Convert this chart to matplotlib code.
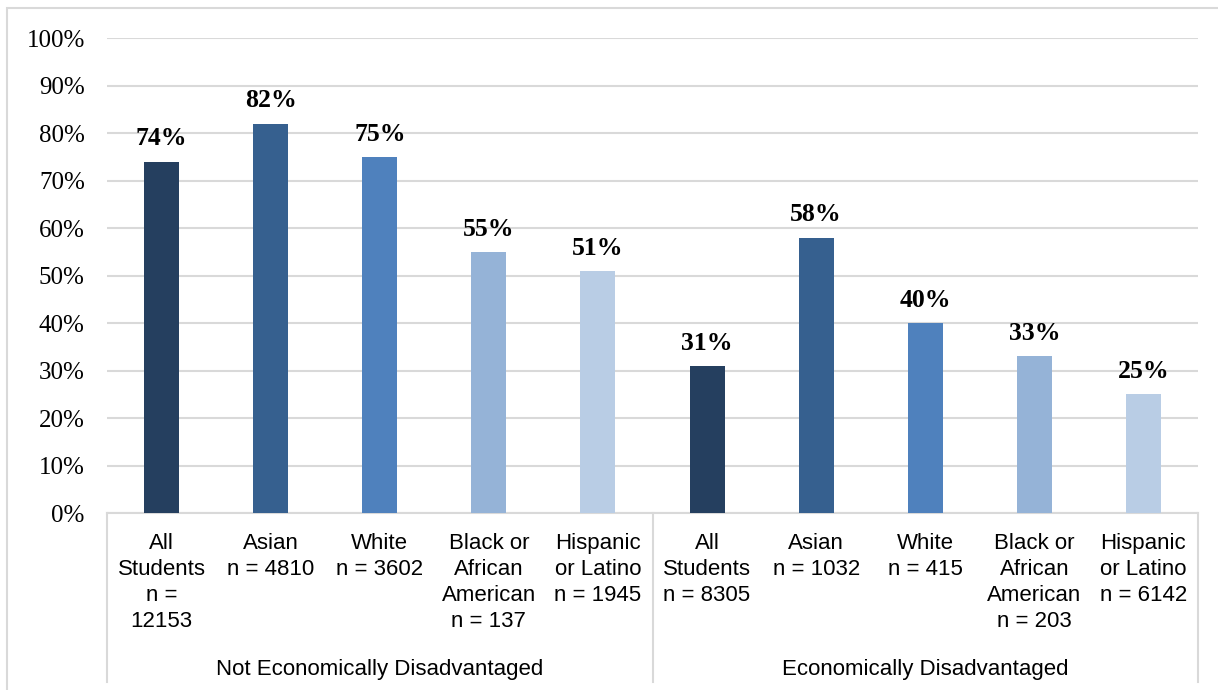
import numpy as np
import matplotlib
matplotlib.use("Agg")
import matplotlib.pyplot as plt
from matplotlib.patches import Rectangle

# Data
groups = ['Not Economically Disadvantaged', 'Economically Disadvantaged']
categories = ['All\nStudents\nn =\n12153', 'Asian\nn = 4810', 'White\nn = 3602',
              'Black or\nAfrican\nAmerican\nn = 137', 'Hispanic\nor Latino\nn = 1945',
              'All\nStudents\nn = 8305', 'Asian\nn = 1032', 'White\nn = 415',
              'Black or\nAfrican\nAmerican\nn = 203', 'Hispanic\nor Latino\nn = 6142']
values = [74, 82, 75, 55, 51, 31, 58, 40, 33, 25]
colors = ['#253F5F', '#36608F', '#4F81BD', '#95B3D7', '#B9CDE5'] * 2

serif = ['Liberation Serif', 'DejaVu Serif']

fig = plt.figure(figsize=(12.18, 6.9), dpi=100)
# outer chart border
fig.patches.append(Rectangle((7/1218, -0.1), 1.2, 1 - 8/690 + 0.1, transform=fig.transFigure,
                             fill=False, edgecolor='#D9D9D9', linewidth=1.5))
ax = fig.add_axes([107/1218, 1 - 513/690, (1198 - 107)/1218, (513 - 38)/690])

x = np.arange(len(values))
ax.bar(x, values, width=0.32, color=colors, zorder=3)
ax.set_xlim(-0.5, len(values) - 0.5)
ax.set_ylim(0, 100)

ax.set_yticks(np.arange(0, 101, 10))
ax.set_yticklabels([f'{v}%' for v in range(0, 101, 10)], family=serif, fontsize=18)
ax.tick_params(axis='y', length=0, pad=16)
ax.set_xticks([])
ax.grid(axis='y', color='#D9D9D9', linewidth=1.5, zorder=0)
for s in ['left', 'right', 'top']:
    ax.spines[s].set_visible(False)
ax.spines['bottom'].set_color('#D9D9D9')
ax.spines['bottom'].set_linewidth(1.5)

# value labels
for xi, v in zip(x, values):
    ax.annotate(f'{v}%', (xi, v), xytext=(0, 8), textcoords='offset points',
                ha='center', va='bottom', family=serif, fontweight='bold', fontsize=18.5)

# category labels and group labels
tr = ax.get_xaxis_transform()
for xi, lab in zip(x, categories):
    ax.text(xi, -0.043, lab, transform=tr, ha='center', va='top', family='Liberation Sans',
            fontsize=16, linespacing=1.3)
for gi, g in enumerate(groups):
    ax.text(gi * 5 + 2, -0.33, g, transform=tr, ha='center', va='center',
            family='Liberation Sans', fontsize=16)
for xb in [-0.5, 4.5, 9.5]:
    ax.plot([xb, xb], [0, -0.356], transform=tr, color='#D9D9D9', linewidth=1.5, clip_on=False)

fig.savefig('out.png', dpi=100)
